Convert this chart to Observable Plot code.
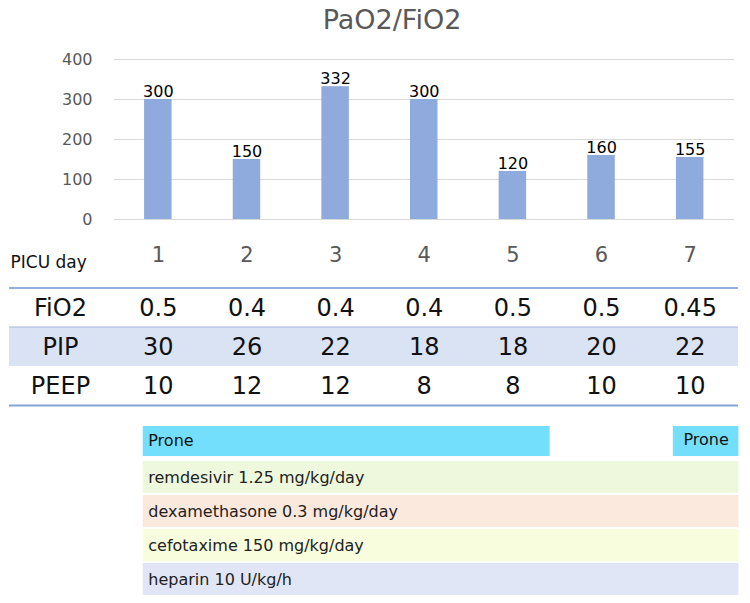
<!DOCTYPE html>
<html>
<head>
<meta charset="utf-8">
<script src="https://cdn.jsdelivr.net/npm/d3@7"></script>
<script src="https://cdn.jsdelivr.net/npm/@observablehq/plot@0.6"></script>
<style>
  html, body { margin: 0; padding: 0; background: #fff; }
  #chart { width: 750px; font-family: "DejaVu Sans", sans-serif; }
  #title {
    width: 750px; height: 44px; box-sizing: border-box; padding-left: 34px;
    text-align: center; font-size: 27px; line-height: 40px; color: #595959;
  }
  #chart svg { display: block; }
</style>
</head>
<body>
<div id="chart">
  <div id="title">PaO2/FiO2</div>
</div>
<script>
// PICU days and daily PaO2/FiO2 ratio
const days = [1, 2, 3, 4, 5, 6, 7];
const pfRatio = [300, 150, 332, 300, 120, 160, 155];
const yTicks = [0, 100, 200, 300, 400];

// Ventilator settings table
const tableRows = ["FiO2", "PIP", "PEEP"];
const fio2 = ["0.5", "0.4", "0.4", "0.4", "0.5", "0.5", "0.45"];
const pip = [30, 26, 22, 18, 18, 20, 22];
const peep = [10, 12, 12, 8, 8, 10, 10];

// Treatment timeline (in PICU-day units)
const therapyRows = ["Prone", "remdesivir", "dexamethasone", "cefotaxime", "heparin"];
const proneSpans = [
  {row: "Prone", start: 0.83, end: 5.42},
  {row: "Prone", start: 6.81, end: 7.55}
];
const drugSpans = [
  {row: "remdesivir", label: "remdesivir 1.25 mg/kg/day", start: 0.83, end: 7.55},
  {row: "dexamethasone", label: "dexamethasone 0.3 mg/kg/day", start: 0.83, end: 7.55},
  {row: "cefotaxime", label: "cefotaxime 150 mg/kg/day", start: 0.83, end: 7.55},
  {row: "heparin", label: "heparin 10 U/kg/h", start: 0.83, end: 7.55}
];

const font = "DejaVu Sans, sans-serif";
const W = 750;
const xRange = [113.5, 734];
const bandX = {type: "band", domain: days, range: xRange, paddingInner: 0.69, paddingOuter: 0.345, round: false};

const bars = days.map((d, i) => ({day: d, value: pfRatio[i]}));

const barChart = Plot.plot({
  width: W, height: 240,
  marginLeft: 114, marginRight: 16, marginTop: 15, marginBottom: 65,
  style: {fontFamily: font, color: "#595959", background: "transparent"},
  x: {...bandX, label: null},
  y: {domain: [0, 400], label: null},
  marks: [
    Plot.gridY(yTicks, {stroke: "#d9d9d9", strokeOpacity: 1, strokeWidth: 1}),
    Plot.barY(bars, {x: "day", y: "value", fill: "#8faadc"}),
    Plot.text(bars, {x: "day", y: "value", text: d => String(d.value), lineAnchor: "bottom", dy: -3,
      fill: "#000", fontSize: 16}),
    Plot.axisY({ticks: yTicks, tickSize: 0, tickPadding: 22, fontSize: 16, label: null}),
    Plot.axisX({tickSize: 0, tickPadding: 28, fontSize: 21, label: null}),
    Plot.text(["PICU day"], {frameAnchor: "bottom-left", textAnchor: "start", lineAnchor: "bottom",
      dx: -104, dy: 48, fontSize: 17, fill: "#111"})
  ]
});

const cells = [];
days.forEach((d, i) => {
  cells.push({day: d, row: "FiO2", text: fio2[i]});
  cells.push({day: d, row: "PIP", text: String(pip[i])});
  cells.push({day: d, row: "PEEP", text: String(peep[i])});
});

const table = Plot.plot({
  width: W, height: 126,
  marginLeft: 9, marginRight: 12, marginTop: 3, marginBottom: 4,
  style: {fontFamily: font, color: "#111", background: "transparent"},
  x: {...bandX, axis: null},
  y: {type: "band", domain: tableRows, padding: 0, axis: null},
  marks: [
    Plot.cell(["PIP"], {y: d => d, fill: "#dae3f3"}),
    Plot.text(tableRows, {y: d => d, text: d => d, frameAnchor: "left", textAnchor: "middle", dx: 51,
      fontSize: 24, fill: "#111"}),
    Plot.text(cells, {x: "day", y: "row", text: "text", fontSize: 24, fill: "#111"}),
    Plot.ruleY(["FiO2"], {y: d => d, stroke: "#6f93d3", strokeWidth: 1.3, dy: -20}),
    Plot.ruleY(["PIP"], {y: d => d, stroke: "#a3b8e2", strokeWidth: 1, dy: -20}),
    Plot.ruleY(["PEEP"], {y: d => d, stroke: "#86a3d9", strokeWidth: 2, dy: 19.5})
  ]
});

const drugFill = {
  remdesivir: "#edf8dd",
  dexamethasone: "#fce9dd",
  cefotaxime: "#f8fdde",
  heparin: "#e1e6f6"
};

const timeline = Plot.plot({
  width: W, height: 193,
  marginLeft: 114, marginRight: 16, marginTop: 15, marginBottom: 8,
  style: {fontFamily: font, color: "#111", background: "transparent"},
  x: {domain: [0.5, 7.5], range: xRange, axis: null},
  y: {type: "band", domain: therapyRows, padding: 0, axis: null},
  marks: [
    Plot.barX(proneSpans, {x1: "start", x2: "end", y: "row", fill: "#73dffc", insetTop: 1, insetBottom: 3}),
    Plot.barX(drugSpans, {x1: "start", x2: "end", y: "row", fill: d => drugFill[d.row], insetTop: 2}),
    Plot.text(proneSpans.slice(0, 1), {x: "start", y: "row", text: () => "Prone", textAnchor: "start",
      dx: 5, dy: -2, fontSize: 16, fill: "#111"}),
    Plot.text(proneSpans.slice(1), {x: d => (d.start + d.end) / 2, y: "row", text: () => "Prone",
      dy: -3, fontSize: 16, fill: "#111"}),
    Plot.text(drugSpans, {x: "start", y: "row", text: "label", textAnchor: "start",
      dx: 5, dy: 1, fontSize: 16, fill: "#222"})
  ]
});

const root = document.getElementById("chart");
root.appendChild(barChart);
root.appendChild(table);
root.appendChild(timeline);
</script>
</body>
</html>
